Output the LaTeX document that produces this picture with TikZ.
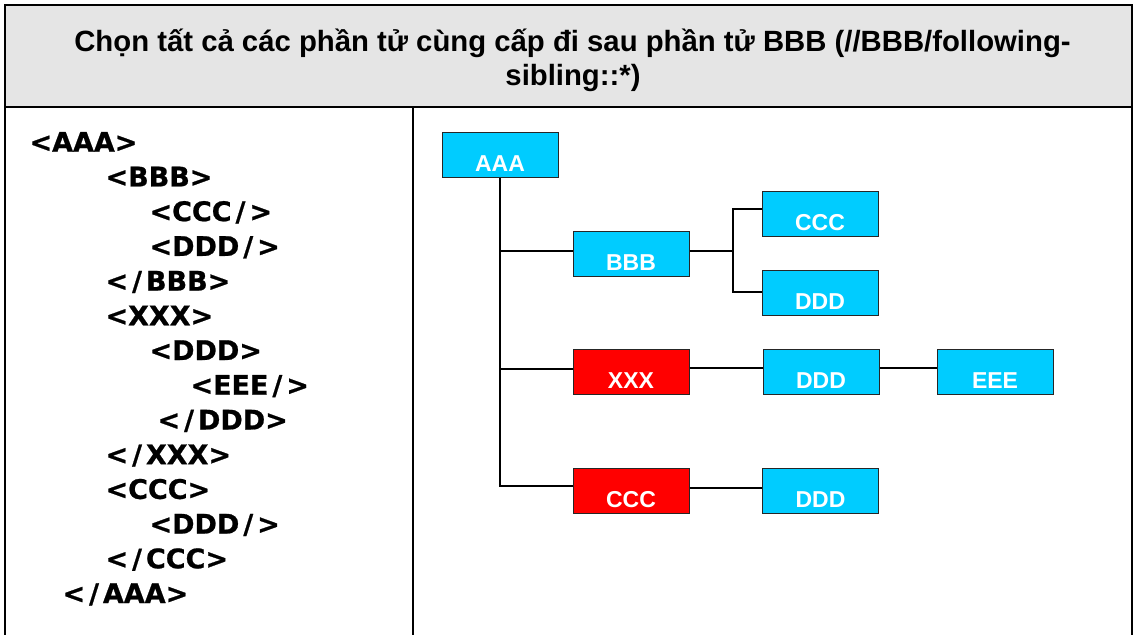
\documentclass[tikz,border=0pt]{standalone}
\usepackage{fontspec}
\setmainfont{Liberation Sans}
\newfontfamily\codefont{DejaVu Sans}[BoldFeatures={FakeBold=0.8}]
\newfontfamily\headfont{Liberation Sans}
\newcommand{\xsl}{\kern4pt/\kern4pt}
\definecolor{hdrgray}{HTML}{E5E5E5}
\definecolor{boxcyan}{HTML}{00CCFF}
\definecolor{boxred}{HTML}{FF0000}
\tikzset{
  frameline/.style={line width=2.5pt, line cap=rect, line join=miter},
  headtxt/.style={anchor=base, inner sep=0pt, font=\headfont\bfseries\fontsize{29.3}{33}\selectfont},
  codetxt/.style={anchor=base west, inner sep=0pt, font=\codefont\bfseries\fontsize{27}{27}\selectfont},
  treebox/.style={draw=black!85, line width=1pt, inner sep=0pt, minimum width=116pt,
    text height=39pt, text depth=6pt, text=white,
    font=\bfseries\fontsize{23}{23}\selectfont},
  cyanbox/.style={treebox, fill=boxcyan},
  redbox/.style={treebox, fill=boxred},
  conn/.style={line width=2pt, black}
}
\begin{document}
\begin{tikzpicture}[x=1pt, y=-1pt]
\path[use as bounding box] (0,0) rectangle (1134,634);
% frame
\fill[hdrgray] (5,5) rectangle (1132,107);
\draw[frameline] (5,634) -- (5,5) -- (1132,5) -- (1132,634);
\draw[frameline] (5,107) -- (1132,107);
\draw[frameline] (413,107) -- (413,634);
% header
\node[headtxt] (h1) at (572.5,51.7) {Chọn tất cả các phần tử cùng cấp đi sau phần tử BBB (//BBB/following-};
\node[headtxt] (h2) at (573,85) {sibling::*)};
% code
\node[codetxt] (c1)  at (29.3,151.7) {<AAA>};
\node[codetxt] (c2)  at (105.3,186.4) {<BBB>};
\node[codetxt] (c3)  at (149.3,221.1) {<CCC\xsl>};
\node[codetxt] (c4)  at (149.3,255.9) {<DDD\xsl>};
\node[codetxt] (c5)  at (105.3,290.6) {<\xsl BBB>};
\node[codetxt] (c6)  at (105.3,325.3) {<XXX>};
\node[codetxt] (c7)  at (149.3,360.0) {<DDD>};
\node[codetxt] (c8)  at (190.3,394.7) {<EEE\xsl>};
\node[codetxt] (c9)  at (157.3,429.5) {<\xsl DDD>};
\node[codetxt] (c10) at (105.3,464.2) {<\xsl XXX>};
\node[codetxt] (c11) at (105.3,498.9) {<CCC>};
\node[codetxt] (c12) at (149.3,533.6) {<DDD\xsl>};
\node[codetxt] (c13) at (105.3,568.3) {<\xsl CCC>};
\node[codetxt] (c14) at (62.3,603.0) {<\xsl AAA>};
% tree boxes
\node[cyanbox] (AAA)  at (500,154.5) {AAA};
\node[cyanbox] (BBB)  at (631,253.5) {BBB};
\node[cyanbox] (CCC1) at (820,214) {CCC};
\node[cyanbox] (DDD1) at (820,293) {DDD};
\node[redbox]  (XXX)  at (631,372) {XXX};
\node[cyanbox] (DDD2) at (821,372) {DDD};
\node[cyanbox] (EEE)  at (995,372) {EEE};
\node[redbox]  (CCC2) at (631,490.5) {CCC};
\node[cyanbox] (DDD3) at (820.5,490.5) {DDD};
% connector ends
\coordinate (bbbin) at ([yshift=2.5pt]BBB.west);
\coordinate (bbbout) at ([yshift=2.5pt]BBB.east);
\coordinate (xxxin) at ([yshift=3pt]XXX.west);
\coordinate (xxxout) at ([yshift=4.5pt]XXX.east);
\coordinate (ddd2in) at ([yshift=4.5pt]DDD2.west);
\coordinate (ddd2out) at ([yshift=4.5pt]DDD2.east);
\coordinate (eeein) at ([yshift=4.5pt]EEE.west);
\coordinate (ccc2in) at ([yshift=5pt]CCC2.west);
\coordinate (ccc2out) at ([yshift=3pt]CCC2.east);
\coordinate (ddd3in) at ([yshift=3pt]DDD3.west);
\coordinate (ccc1in) at ([yshift=5pt]CCC1.west);
\coordinate (ddd1in) at ([yshift=1pt]DDD1.west);
\coordinate (fork) at (733,0);
% connectors
\draw[conn] (AAA.south) |- (ccc2in);
\draw[conn] (AAA.south |- bbbin) -- (bbbin);
\draw[conn] (AAA.south |- xxxin) -- (xxxin);
\draw[conn] (bbbout) -- (fork |- bbbout);
\draw[conn] (ccc1in) -| (fork |- ddd1in) -- (ddd1in);
\draw[conn] (xxxout) -- (ddd2in);
\draw[conn] (ddd2out) -- (eeein);
\draw[conn] (ccc2out) -- (ddd3in);
\end{tikzpicture}
\end{document}
